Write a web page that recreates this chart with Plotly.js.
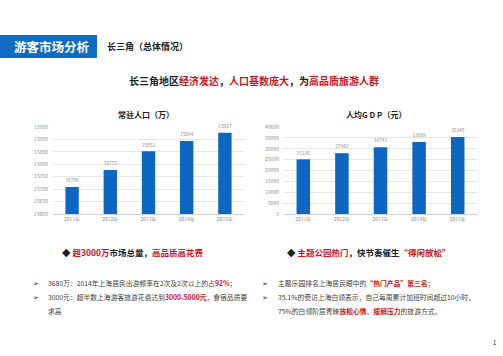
<!DOCTYPE html>
<html>
<head>
<meta charset="utf-8">
<script src="https://cdn.plot.ly/plotly-3.0.1.min.js"></script>
<style>html,body{margin:0;padding:0;background:#fff;}#chart{width:503px;height:356px;}</style>
</head>
<body>
<div id="chart"></div>
<script>
// ---- data ----
const years = ['2011年', '2012年', '2013年', '2014年', '2015年'];
const population = [15709, 15777, 15852, 15894, 15927];
const gdpPerCapita = [25126, 27962, 30741, 33089, 35345];
const popTicks = [15600, 15650, 15700, 15750, 15800, 15850, 15900, 15950];
const gdpTicks = [0, 5000, 10000, 15000, 20000, 25000, 30000, 35000, 40000];

const W = 503, H = 356;
const px = x => x / W;
const py = y => 1 - y / H;
const FONT = '"Noto Sans CJK SC", "Noto Sans", sans-serif';
const BAR = '#0b67c2';
const RED = '#d0121b';

const traces = [
  {type: 'bar', x: years, y: population, xaxis: 'x', yaxis: 'y',
   marker: {color: BAR}, text: population.map(String), textposition: 'outside',
   textfont: {size: 5.5, color: '#8a8a8a', family: FONT}, cliponaxis: false, hoverinfo: 'none'},
  {type: 'bar', x: years, y: gdpPerCapita, xaxis: 'x2', yaxis: 'y2',
   marker: {color: BAR}, text: gdpPerCapita.map(String), textposition: 'outside',
   textfont: {size: 5.5, color: '#8a8a8a', family: FONT}, cliponaxis: false, hoverinfo: 'none'}
];

const axisCommon = {
  tickfont: {size: 5, color: '#8a8a8a', family: FONT}, tickformat: 'd',
  gridcolor: '#dcdcdc', gridwidth: 0.7, zeroline: false, fixedrange: true, ticklabelstandoff: 4
};

function ann(x, y, text, size, opts) {
  return Object.assign({xref: 'paper', yref: 'paper', x: px(x), y: py(y), text: text,
    showarrow: false, xanchor: 'left', yanchor: 'middle',
    font: {size: size, color: '#222', family: FONT}}, opts || {});
}
const r = s => '<span style="color:' + RED + '">' + s + '</span>';
const body = {font: {size: 6.8, color: '#404040', family: FONT}};

const annotations = [
  ann(12, 46.5, '<b>游客市场分析</b>', 12.5, {font: {size: 12.5, color: '#fff', family: FONT}}),
  ann(105, 46.5, '<b>长三角（总体情况）</b>', 9),
  ann(254, 80, '<b>长三角地区' + r('经济发达') + '，' + r('人口基数庞大') + '，为' + r('高品质旅游人群') + '</b>', 10, {xanchor: 'center'}),
  ann(146, 114, '<b>常驻人口（万）</b>', 8, {xanchor: 'center'}),
  ann(376, 114, '<b>人均G D P（元）</b>', 8, {xanchor: 'center'}),
  ann(60, 252, '<b>◆ ' + r('超3000万') + '市场总量，' + r('高品质高花费') + '</b>', 8.5),
  ann(285, 252, '<b>◆ ' + r('主题公园热门') + '，快节奏催生' + r('“得闲放松”') + '</b>', 8.5),
  ann(31, 283, '➢', 7),
  ann(31, 297, '➢', 7),
  ann(260, 283, '➢', 7),
  ann(260, 297, '➢', 7),
  ann(46, 283, '3680万：2014年上海居民出游频率在2次及2次以上的占' + r('<b>92%</b>') + '；', 6.8, body),
  ann(46, 297, '3000元：超半数上海游客旅游花费达到' + r('<b>3000-5000元</b>') + '，食宿品质要', 6.8, body),
  ann(46, 311, '求高', 6.8, body),
  ann(276, 283, '主题乐园排名上海居民眼中的' + r('<b>“热门产品”第三名</b>') + '；', 6.8, body),
  ann(276, 297, '35.1%的受访上海白领表示，自己每周累计加班时间超过10小时，', 6.8, body),
  ann(276, 311, '75%的白领阶层青睐' + r('<b>放松心情</b>') + '、' + r('<b>缓解压力</b>') + '的旅游方式。', 6.8, body),
  ann(494, 342, '1', 6, {xanchor: 'center'})
];

const layout = {
  width: W, height: H,
  margin: {l: 0, r: 0, t: 0, b: 0},
  paper_bgcolor: '#fff', plot_bgcolor: '#fff',
  showlegend: false,
  bargap: 0.65,
  xaxis: {domain: [px(53), px(244)], anchor: 'y', showline: true, linecolor: '#cfcfcf',
          ticks: '', tickfont: {size: 5, color: '#8a8a8a', family: FONT}, fixedrange: true},
  yaxis: Object.assign({domain: [py(214), py(127)], anchor: 'x', range: [15600, 15950],
          tickvals: popTicks, ticks: ''}, axisCommon),
  xaxis2: {domain: [px(284), px(477)], anchor: 'y2', showline: true, linecolor: '#cfcfcf',
          ticks: '', tickfont: {size: 5, color: '#8a8a8a', family: FONT}, fixedrange: true},
  yaxis2: Object.assign({domain: [py(214), py(127)], anchor: 'x2', range: [0, 40000],
          tickvals: gdpTicks, ticks: ''}, axisCommon),
  shapes: [
    {type: 'rect', xref: 'paper', yref: 'paper', x0: px(0), x1: px(97), y0: py(58), y1: py(35),
     fillcolor: '#0e6dc3', line: {width: 0}, layer: 'below'}
  ],
  annotations: annotations
};

Plotly.newPlot('chart', traces, layout, {displayModeBar: false, staticPlot: true});
</script>
</body>
</html>
